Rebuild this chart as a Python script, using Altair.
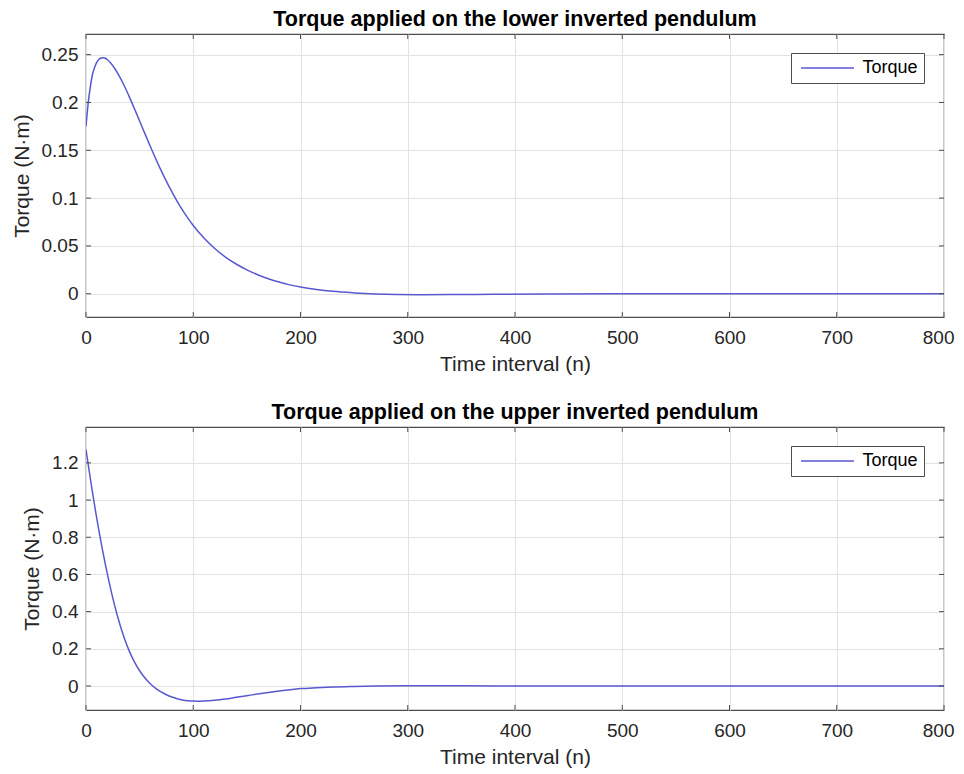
import altair as alt
import pandas as pd

# ---- data ----
n_lower = [0, 2, 4, 6, 8, 10, 12, 14, 16, 18, 20, 23, 26, 30, 35, 40, 45, 50, 55, 60,
           65, 70, 75, 80, 85, 90, 95, 100, 110, 120, 130, 140, 150, 160, 170, 180, 190,
           200, 215, 230, 250, 270, 290, 310, 340, 380, 430, 500, 600, 700, 800]
torque_lower = [0.175, 0.199, 0.216, 0.229, 0.2365, 0.242, 0.245, 0.2465, 0.2468, 0.2462,
                0.2447, 0.2413, 0.2368, 0.2296, 0.2191, 0.2069, 0.1939, 0.1806, 0.1672,
                0.1540, 0.1412, 0.1290, 0.1175, 0.1067, 0.0967, 0.0875, 0.0791, 0.0714,
                0.0582, 0.0473, 0.0384, 0.0311, 0.0250, 0.0199, 0.0157, 0.0122, 0.0093,
                0.0070, 0.0044, 0.0025, 0.0009, -0.0002, -0.0008, -0.0010, -0.0009,
                -0.0006, -0.0003, -0.0001, 0.0, 0.0, 0.0]

n_upper = [0, 3, 6, 9, 12, 15, 18, 21, 24, 27, 30, 33, 36, 40, 45, 50, 55, 60, 65, 70,
           75, 80, 85, 90, 95, 100, 105, 110, 120, 130, 140, 150, 160, 170, 180, 190,
           200, 215, 230, 250, 270, 300, 350, 400, 500, 600, 700, 800]
torque_upper = [1.272, 1.155, 1.043, 0.937, 0.837, 0.743, 0.655, 0.573, 0.497, 0.427,
                0.363, 0.305, 0.253, 0.193, 0.131, 0.082, 0.043, 0.012, -0.013, -0.032,
                -0.047, -0.059, -0.068, -0.075, -0.079, -0.081, -0.0815, -0.081, -0.077,
                -0.070, -0.061, -0.052, -0.043, -0.035, -0.027, -0.020, -0.014, -0.009,
                -0.005, -0.002, 0.0, 0.001, 0.001, 0.0005, 0.0, 0.0, 0.0, 0.0]

x_ticks = [0, 100, 200, 300, 400, 500, 600, 700, 800]
y_ticks_lower = [0, 0.05, 0.1, 0.15, 0.2, 0.25]
y_ticks_upper = [0, 0.2, 0.4, 0.6, 0.8, 1, 1.2]
y_domain_lower = [-0.0243, 0.2716]
y_domain_upper = [-0.129, 1.393]
series_name = "Torque"
titles = ["Torque applied on the lower inverted pendulum",
          "Torque applied on the upper inverted pendulum"]
x_title = "Time interval (n)"
y_title = "Torque (N·m)"

LINE = "#5858d0"
FRAME = "#4d4d4d"
FONT = "Liberation Sans"
W, H = 858, 283
TICK = 5


def panel(n, v, title, yticks, ydom):
    df = pd.DataFrame({"n": n, "torque": v, "series": series_name})
    xscale = alt.Scale(domain=[0, 800], nice=False, zero=False)
    yscale = alt.Scale(domain=ydom, nice=False, zero=False)
    xaxis = alt.Axis(values=x_ticks, title=x_title, format="d", ticks=False,
                     tickSize=0, labelPadding=11, titlePadding=6, labelFlush=False,
                     labelAlign=alt.condition("datum.value == 800", alt.value("right"),
                                              alt.value("center")),
                     labelOffset=alt.condition("datum.value == 800", alt.value(10),
                                               alt.value(0)))
    yaxis = alt.Axis(values=yticks, title=y_title, format="~g", ticks=False,
                     tickSize=0, labelPadding=8, titlePadding=9)

    line = alt.Chart(df).mark_line(strokeWidth=1.5, interpolate="monotone", clip=True).encode(
        x=alt.X("n:Q", scale=xscale, axis=xaxis, title=x_title),
        y=alt.Y("torque:Q", scale=yscale, axis=yaxis, title=y_title),
        color=alt.Color("series:N", scale=alt.Scale(range=[LINE]),
                        legend=alt.Legend(title=None, orient="none", legendX=705,
                                          legendY=19,
                                          fillColor="white", strokeColor=FRAME,
                                          padding=6, symbolType="M-5.3,0H5.3",
                                          symbolSize=100, symbolStrokeWidth=1.5,
                                          symbolOffset=21.5, labelOffset=26,
                                          labelFontSize=18, labelColor="#000000",
                                          labelFont=FONT)),
    )

    xt = pd.DataFrame({"t": x_ticks})
    yt = pd.DataFrame({"t": yticks})
    xt_bottom = alt.Chart(xt).mark_rule(color=FRAME, strokeWidth=1).encode(
        x=alt.X("t:Q", scale=xscale, axis=xaxis, title=x_title),
        y=alt.value(H), y2=alt.value(H - TICK))
    xt_top = alt.Chart(xt).mark_rule(color=FRAME, strokeWidth=1).encode(
        x=alt.X("t:Q", scale=xscale, axis=xaxis, title=x_title),
        y=alt.value(0), y2=alt.value(TICK))
    yt_left = alt.Chart(yt).mark_rule(color=FRAME, strokeWidth=1).encode(
        y=alt.Y("t:Q", scale=yscale, axis=yaxis, title=y_title),
        x=alt.value(0), x2=alt.value(TICK))
    yt_right = alt.Chart(yt).mark_rule(color=FRAME, strokeWidth=1).encode(
        y=alt.Y("t:Q", scale=yscale, axis=yaxis, title=y_title),
        x=alt.value(W), x2=alt.value(W - TICK))

    return alt.layer(line, xt_bottom, xt_top, yt_left, yt_right).properties(
        width=W, height=H,
        title=alt.TitleParams(title, fontSize=21.5, fontWeight="bold", font=FONT,
                              color="#000000", offset=3, anchor="middle"),
    )


top = panel(n_lower, torque_lower, titles[0], y_ticks_lower, y_domain_lower)
bottom = panel(n_upper, torque_upper, titles[1], y_ticks_upper, y_domain_upper)

chart = alt.vconcat(top, bottom, spacing=26).resolve_scale(
    color="independent").resolve_legend(color="independent").configure_axis(
    labelFont=FONT, titleFont=FONT, labelFontSize=19, titleFontSize=21,
    labelColor="#262626", titleColor="#262626", titleFontWeight="normal",
    gridColor="#e2e2e2", gridWidth=1, domain=False,
).configure_view(stroke=FRAME, strokeWidth=1.2).properties(
    background="white", padding={"left": 2, "top": 0, "right": 0, "bottom": 0})

chart.save("out.html", embed_options={"renderer": "svg", "actions": False})
